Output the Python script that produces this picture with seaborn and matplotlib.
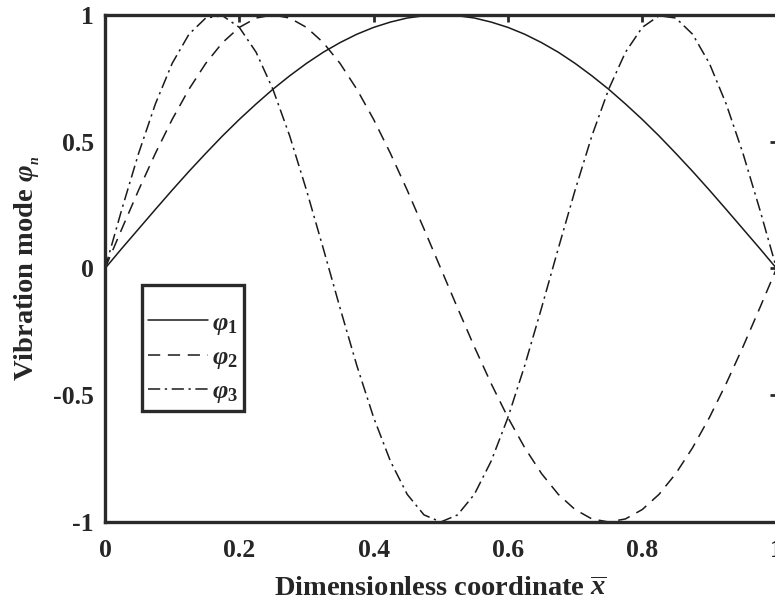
import numpy as np
import pandas as pd
import matplotlib
matplotlib.use("Agg")
import matplotlib.pyplot as plt
import seaborn as sns
from matplotlib.lines import Line2D

# ---- data ----
x_vals = [0.000, 0.025, 0.050, 0.075, 0.100, 0.125, 0.150, 0.175, 0.200, 0.225,
          0.250, 0.275, 0.300, 0.325, 0.350, 0.375, 0.400, 0.425, 0.450, 0.475,
          0.500, 0.525, 0.550, 0.575, 0.600, 0.625, 0.650, 0.675, 0.700, 0.725,
          0.750, 0.775, 0.800, 0.825, 0.850, 0.875, 0.900, 0.925, 0.950, 0.975,
          1.000]
phi1 = [0.000, 0.079, 0.156, 0.233, 0.309, 0.383, 0.454, 0.523, 0.588, 0.649,
        0.707, 0.760, 0.809, 0.853, 0.891, 0.924, 0.951, 0.972, 0.988, 0.997,
        1.000, 0.997, 0.988, 0.972, 0.951, 0.924, 0.891, 0.853, 0.809, 0.760,
        0.707, 0.649, 0.588, 0.523, 0.454, 0.383, 0.309, 0.233, 0.156, 0.079,
        0.000]
phi2 = [0.000, 0.156, 0.309, 0.454, 0.588, 0.707, 0.809, 0.891, 0.951, 0.988,
        1.000, 0.988, 0.951, 0.891, 0.809, 0.707, 0.588, 0.454, 0.309, 0.156,
        0.000, -0.156, -0.309, -0.454, -0.588, -0.707, -0.809, -0.891, -0.951, -0.988,
        -1.000, -0.988, -0.951, -0.891, -0.809, -0.707, -0.588, -0.454, -0.309, -0.156,
        0.000]
phi3 = [0.000, 0.233, 0.454, 0.649, 0.809, 0.924, 0.988, 0.997, 0.951, 0.853,
        0.707, 0.523, 0.309, 0.079, -0.156, -0.383, -0.588, -0.760, -0.891, -0.972,
        -1.000, -0.972, -0.891, -0.760, -0.588, -0.383, -0.156, 0.079, 0.309, 0.523,
        0.707, 0.853, 0.951, 0.997, 0.988, 0.924, 0.809, 0.649, 0.454, 0.233,
        0.000]
series_labels = [r"$\varphi_1$", r"$\varphi_2$", r"$\varphi_3$"]
x_ticks = [0, 0.2, 0.4, 0.6, 0.8, 1]
x_ticklabels = ["0", "0.2", "0.4", "0.6", "0.8", "1"]
y_ticks = [-1, -0.5, 0, 0.5, 1]
y_ticklabels = ["-1", "-0.5", "0", "0.5", "1"]

sns.set_theme(style="white")
plt.rcParams["font.family"] = ["Liberation Serif", "DejaVu Serif"]
plt.rcParams["font.weight"] = "bold"
plt.rcParams["mathtext.fontset"] = "custom"
plt.rcParams["mathtext.rm"] = "Liberation Serif:bold"
plt.rcParams["mathtext.it"] = "Liberation Serif:bold:italic"
plt.rcParams["mathtext.bf"] = "Liberation Serif:bold"
plt.rcParams["axes.unicode_minus"] = False

df = pd.DataFrame({
    "x": x_vals * 3,
    "y": phi1 + phi2 + phi3,
    "mode": ["m1"] * len(x_vals) + ["m2"] * len(x_vals) + ["m3"] * len(x_vals),
})

fig = plt.figure(figsize=(7.75, 6.11), dpi=100)
ax = fig.add_axes([0.1355, 0.1457, 1.002 - 0.1355, 0.9755 - 0.1457])

dash_map = {"m1": "", "m2": (8, 5), "m3": (8, 3, 1.5, 3)}
sns.lineplot(data=df, x="x", y="y", style="mode", dashes=dash_map,
             color="#1a1a1a", linewidth=1.1, legend=False, ax=ax,
             sort=False, estimator=None)

ax.set_xlim(0, 1)
ax.set_ylim(-1, 1)
ax.set_xticks(x_ticks)
ax.set_xticklabels(x_ticklabels)
ax.set_yticks(y_ticks)
ax.set_yticklabels(y_ticklabels)
ax.tick_params(direction="in", length=5, width=2, color="#2a2a2a",
               labelsize=18.5, top=True, right=True)
ax.tick_params(axis="x", pad=12)
ax.tick_params(axis="y", pad=8)
for lab in ax.get_xticklabels() + ax.get_yticklabels():
    lab.set_fontweight("bold")
for sp in ax.spines.values():
    sp.set_linewidth(2.4)
    sp.set_color("#2a2a2a")

ax.set_xlabel(r"Dimensionless coordinate $\overline{x}$", fontsize=20.5,
              fontweight="bold", labelpad=11)
ax.set_ylabel(r"Vibration mode $\varphi_{_n}$", fontsize=20.5,
              fontweight="bold", labelpad=8)

handles = [Line2D([], [], color="#1a1a1a", lw=1.1),
           Line2D([], [], color="#1a1a1a", lw=1.1, dashes=(8, 5)),
           Line2D([], [], color="#1a1a1a", lw=1.1, dashes=(8, 3, 1.5, 3))]
leg = ax.legend(handles, series_labels, loc="upper left",
                bbox_to_anchor=(0.055, 0.468), borderaxespad=0,
                fancybox=False, frameon=True, handlelength=2.3,
                fontsize=19, labelspacing=0.33, handletextpad=0.15,
                borderpad=0.22, title=" ", title_fontsize=9)
leg.get_frame().set_edgecolor("#2a2a2a")
leg.get_frame().set_linewidth(2.4)
leg.get_frame().set_alpha(1)

fig.savefig("out.png", dpi=100)
